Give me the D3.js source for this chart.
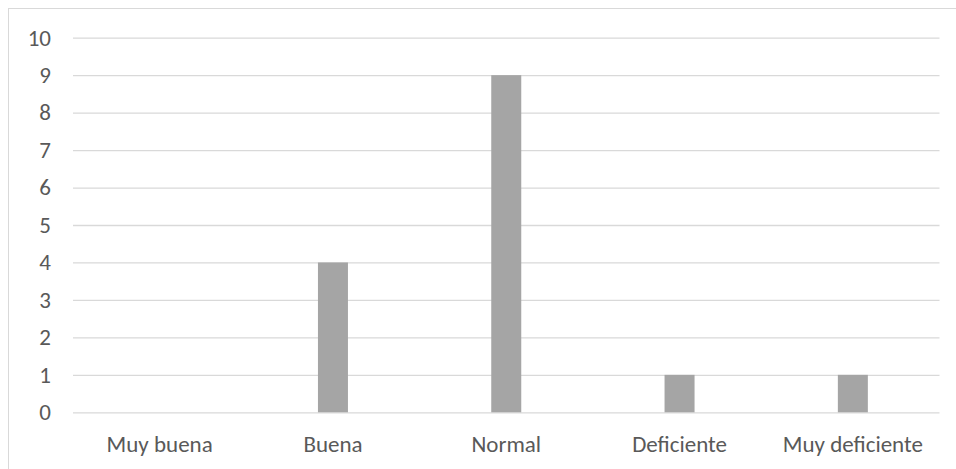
<!DOCTYPE html>
<html>
<head>
<meta charset="utf-8">
<script src="https://cdn.jsdelivr.net/npm/d3@7"></script>
<style>
  html, body { margin: 0; padding: 0; background: #ffffff; }
  svg { display: block; }
  text { font-family: Carlito, Calibri, Lato, "Open Sans", sans-serif; fill: #595959; }
</style>
</head>
<body>
<svg id="chart" width="956" height="469"></svg>
<script>
// Responses per rating
const categories = ["Muy buena", "Buena", "Normal", "Deficiente", "Muy deficiente"];
const counts = [0, 4, 9, 1, 1];
const yTicks = [0, 1, 2, 3, 4, 5, 6, 7, 8, 9, 10];

const W = 956, H = 469;
const plot = { left: 73, right: 939.5, top: 37.7, bottom: 412.3 };
const fontSize = 23;
const fontFamily = "Carlito, Calibri, Lato, 'Open Sans', sans-serif";

const svg = d3.select("#chart");

// Chart area frame
svg.append("rect")
  .attr("x", 8.5).attr("y", 8.5)
  .attr("width", W + 10).attr("height", H + 10)
  .attr("fill", "#ffffff")
  .attr("stroke", "#d9d9d9")
  .attr("stroke-width", 1);

const x = d3.scaleBand()
  .domain(categories)
  .range([plot.left, plot.right])
  .paddingInner(0)
  .paddingOuter(0);

const y = d3.scaleLinear()
  .domain([0, 10])
  .range([plot.bottom, plot.top]);

// Horizontal gridlines with tick labels
const yAxis = d3.axisLeft(y)
  .tickValues(yTicks)
  .tickSize(-(plot.right - plot.left))
  .tickPadding(22)
  .tickFormat(d3.format("d"));

const gy = svg.append("g")
  .attr("transform", `translate(${plot.left},0)`)
  .call(yAxis);
gy.select(".domain").remove();
gy.selectAll(".tick line").attr("stroke", "#d9d9d9").attr("stroke-width", 1.3);
gy.selectAll(".tick text")
  .attr("font-size", fontSize)
  .attr("fill", "#595959")
  .style("font-family", fontFamily);

// Bars
const barWidth = 30;
svg.append("g")
  .selectAll("rect")
  .data(categories.map((c, i) => ({ c, v: counts[i] })))
  .join("rect")
  .attr("x", d => x(d.c) + x.bandwidth() / 2 - barWidth / 2)
  .attr("y", d => y(d.v))
  .attr("width", barWidth)
  .attr("height", d => y(0) - y(d.v))
  .attr("fill", "#a5a5a5");

// Category labels
const xAxis = d3.axisBottom(x).tickSize(0).tickPadding(23);
const gx = svg.append("g")
  .attr("transform", `translate(0,${plot.bottom})`)
  .call(xAxis);
gx.select(".domain").remove();
gx.selectAll(".tick text")
  .attr("font-size", fontSize)
  .attr("fill", "#595959")
  .style("font-family", fontFamily);
</script>
</body>
</html>
